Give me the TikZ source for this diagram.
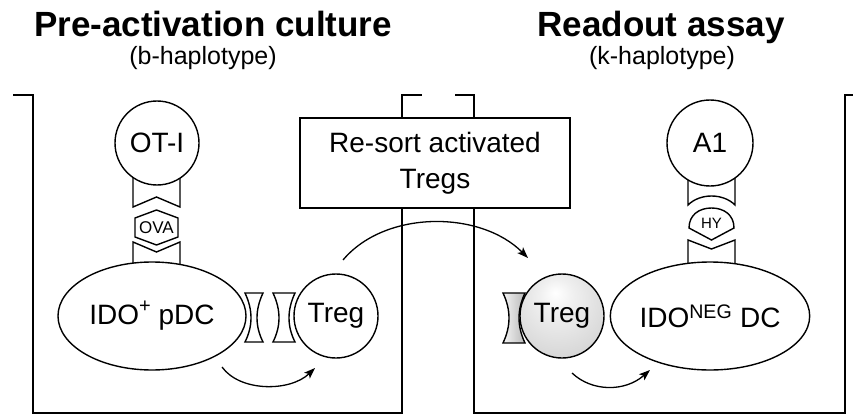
\documentclass[tikz,border=0pt]{standalone}
\usepackage{fontspec}
\setmainfont{Liberation Sans}
\usetikzlibrary{arrows.meta,shapes.geometric}

\pgfdeclareradialshading{tregshade}{\pgfpoint{-4bp}{14bp}}{color(0bp)=(white);color(10bp)=(gray!12);color(30bp)=(gray!30);color(48bp)=(gray!50);color(60bp)=(gray!70);color(64bp)=(gray!75)}

\begin{document}
\begin{tikzpicture}[x=1pt,y=-1pt,
	cell/.style={draw,circle,line width=1.4pt,fill=white,minimum size=84pt,inner sep=0pt,font=\fontsize{28}{30}\selectfont},
	dc/.style={draw,ellipse,line width=1.4pt,fill=white,minimum width=188pt,minimum height=108pt,inner sep=0pt,font=\fontsize{28}{30}\selectfont},
	rcpt/.style={draw,line width=1.4pt,fill=white},
	well/.style={line width=2pt},
	flow/.style={line width=1.3pt,-{Stealth[length=11pt,width=8pt,inset=2.5pt]}},
	title/.style={font=\fontsize{35}{40}\selectfont\bfseries,anchor=base},
	haplo/.style={font=\fontsize{25}{28}\selectfont,anchor=base}]
	\useasboundingbox (0,0) rectangle (853,417);
	
	\node [title] (ttlA) at (213,37) {Pre-activation culture};
	\node [haplo] (hapA) at (203,65) {(b-haplotype)};
	\node [title] (ttlB) at (661,37) {Readout assay};
	\node [haplo] (hapB) at (662,65) {(k-haplotype)};
	
	% the two wells
	\draw [well] (13,95) to (33,95) to (33,413) to (402,413) to (402,95) to (422,95);
	\draw [well] (455,95) to (474,95) to (474,413) to (845,413) to (845,95) to (853,95);
	
	\node [draw,line width=1.4pt,fill=white,minimum width=270pt,minimum height=90pt,align=center,font=\fontsize{28}{36}\selectfont] (sort) at (435,163) {Re-sort activated\\Tregs};
	
	% pre-activation: TCR, OVA, MHC
	\draw [rcpt] (133,170) to (133,207) to (156.5,197) to (180,207) to (180,170);
	\draw [rcpt] (156.5,210) to (178,218) to (178,237) to (156.5,245) to (135,237) to (135,218) to cycle;
	\node [font=\fontsize{17}{17}\selectfont] (ova) at (156.5,228) {OVA};
	\draw [rcpt] (133,275) to (133,242) to (156.5,252) to (180,242) to (180,275);
	\draw [rcpt] (245,293) to (263,293) .. controls (255,310) and (255,326) .. (263,342) to (245,342) .. controls (253,326) and (253,310) .. (245,293) -- cycle;
	\draw [rcpt] (273,293) to (295,293) .. controls (287,310) and (287,326) .. (295,342) to (273,342) .. controls (281,326) and (281,310) .. (273,293) -- cycle;
	
	\node [dc] (pdc) at (152,316) {IDO\raisebox{12pt}{\fontsize{20}{20}\selectfont+} pDC};
	\node [cell] (otI) at (157,143) {OT-I};
	\node [cell] (tregA) at (336,316) {Treg};
	
	% readout: TCR, HY, MHC
	\draw [rcpt] (688,170) to (688,205) .. controls (700,193) and (723,193) .. (735,205) to (735,170);
	\draw [rcpt] (689,228) .. controls (689,215) and (699,208) .. (711.5,208) .. controls (724,208) and (734,215) .. (734,228) to (711.5,240) to cycle;
	\node [font=\fontsize{15}{15}\selectfont] (hy) at (711.5,223) {HY};
	\draw [rcpt] (688,275) to (688,240) to (711.5,249) to (735,240) to (735,275);
	\draw [rcpt,left color=gray!8,right color=gray!55] (503,293) to (525,293) .. controls (517,310) and (517,326) .. (525,343) to (503,343) .. controls (511,326) and (511,310) .. (503,293) -- cycle;
	
	\node [cell,shading=tregshade,shade] (tregB) at (562,316) {Treg};
	\node [dc] (idoneg) at (710,316) {IDO\textsuperscript{NEG} DC};
	\node [cell,minimum size=86pt] (aOne) at (710,143) {A1};
	
	% arrows
	\coordinate (outA) at (222,367);
	\coordinate (inA) at (315,368);
	\coordinate (outT) at (343,260);
	\coordinate (inT) at (528,258);
	\coordinate (outB) at (572,373);
	\coordinate (inB) at (650,370);
	\draw [flow] (outA) .. controls (240,392) and (290,392) .. (inA);
	\draw [flow] (outT) .. controls (385,210) and (480,210) .. (inT);
	\draw [flow] (outB) .. controls (592,392) and (625,392) .. (inB);
\end{tikzpicture}
\end{document}
